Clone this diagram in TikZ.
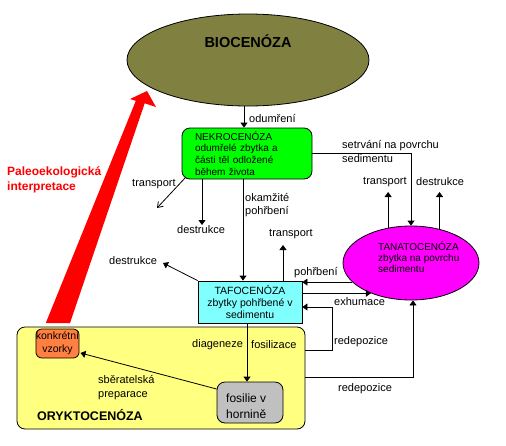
\documentclass[tikz,border=0pt]{standalone}
\usepackage{fontspec}
\setmainfont{Liberation Sans}
\usetikzlibrary{arrows.meta,shapes.geometric}
\definecolor{cBio}{HTML}{808040}
\definecolor{cNek}{HTML}{00FF00}
\definecolor{cTaf}{HTML}{80FFFF}
\definecolor{cTan}{HTML}{FF00FF}
\definecolor{cOry}{HTML}{FFFF80}
\definecolor{cKon}{HTML}{FF8040}
\definecolor{cFos}{HTML}{C0C0C0}
\definecolor{cRed}{HTML}{FF0000}
\begin{document}
\begin{tikzpicture}[x=1pt,y=-1pt,
  every node/.style={inner sep=0pt, font=\fontsize{11}{13}\selectfont},
  lbl/.style={anchor=west, align=left},
  arr/.style={-{Triangle[width=7pt,length=5pt]}, line width=0.8pt},
  barb/.style={-{Straight Barb[width=7pt,length=5pt]}, line width=0.8pt},
  shp/.style={draw, line width=0.8pt}]
\useasboundingbox (0,0) rectangle (506,445);

% shapes
\node[shp, fill=cOry, rounded corners=8pt, minimum width=288pt, minimum height=102pt] (orykto) at (161,378) {};
\node[shp, fill=cBio, ellipse, minimum width=242pt, minimum height=92pt] (bio) at (248,60) {};
\node[font=\bfseries\fontsize{14.5}{16}\selectfont] (bioT) at (248,41) {BIOCENÓZA};
\node[shp, fill=cNek, rounded corners=8pt, minimum width=130pt, minimum height=51pt, text width=104pt, align=left, font=\fontsize{10}{11.8}\selectfont] (nekro) at (247,153.5) {NEKROCENÓZA\\odumřelé zbytka a\\části těl odložené\\během života};
\node[shp, fill=cTaf, minimum width=104pt, minimum height=42pt, align=center, font=\fontsize{10.5}{12}\selectfont] (tafo) at (250,302) {TAFOCENÓZA\\zbytky pohřbené v\\sedimentu};
\node[shp, fill=cTan, ellipse, minimum width=136pt, minimum height=74pt] (tanato) at (411,263) {};
\node[lbl, font=\fontsize{10}{10.8}\selectfont] (tanatoT) at (378,257) {TANATOCENÓZA\\zbytka na povrchu\\sedimentu};
\node[shp, fill=cKon, rounded corners=6pt, minimum width=43pt, minimum height=29pt, align=center, font=\fontsize{10.5}{13}\selectfont] (konk) at (57.5,343.5) {konkrétní\\vzorky};
\node[shp, fill=cFos, rounded corners=8pt, minimum width=66pt, minimum height=41pt] (fos) at (250,402.5) {};
\node[lbl, font=\fontsize{12}{16}\selectfont] (fosT) at (226,406) {fosilie v\\hornině};
\node[lbl, font=\bfseries\fontsize{12.5}{15}\selectfont] (oryT) at (37,415) {ORYKTOCENÓZA};

% red arrow
\fill[cRed] (45.8,323) -- (135.8,100.8) -- (130,99) -- (147,91) -- (156,107) -- (144.7,103.3) -- (70,323) -- cycle;
\node[lbl, text=cRed, font=\bfseries\fontsize{12}{15}\selectfont] (paleo) at (7,179.5) {Paleoekologická\\interpretace};

% coordinates
\coordinate (tr1) at (157,208);
\coordinate (de1) at (202,225);
\coordinate (xOk) at (243,0);
\coordinate (tTop) at (0,192);
\coordinate (tTr2) at (283,245);
\coordinate (de2) at (163,263);
\coordinate (r1a) at (332,350);
\coordinate (r1b) at (332,307);
\coordinate (r2) at (413,377);

% connectors
\draw[arr] ([xshift=-4pt]bio.south) -- ([xshift=-4pt]bio.south |- nekro.north);
\draw[barb] ([shift={(4pt,2pt)}]nekro.south west) -- (tr1);
\draw[arr] (nekro.south -| de1) -- (de1);
\draw[arr] (nekro.south -| xOk) -- (tafo.north -| xOk);
\draw[arr] (nekro.east) -| (tanato.north);
\draw[arr] (tanato.123) -- (tanato.123 |- tTop);
\draw[arr] (tanato.50) -- (tanato.50 |- tTop);
\draw[arr] (tafo.north -| tTr2) -- (tTr2);
\draw[arr] (tafo.north west) -- (de2);
\draw[arr] (tanato.198) -- (tanato.198 -| tafo.east);
\draw[arr] (tafo.east |- tanato.217) -- (tanato.217);
\draw[arr] (orykto.east |- r1a) -- (r1a) -- (r1b) -- (tafo.east |- r1b);
\draw[arr] (orykto.east |- r2) -- (r2) -- (r2 |- tanato.south);
\draw[arr] ([xshift=-3pt]tafo.south) -- ([xshift=-3pt]tafo.south |- fos.north);
\draw[arr] ([yshift=13.5pt]fos.west) -- ([shift={(1pt,-9.5pt)}]konk.east);

% labels
\node[lbl] (lOdu) at (249,118) {odumření};
\node[lbl] (lTr1) at (132,184) {transport};
\node[lbl] (lDe1) at (177,230) {destrukce};
\node[lbl] (lOk) at (245,205) {okamžité\\pohřbení};
\node[lbl] (lTr2) at (269,234) {transport};
\node[lbl, font=\fontsize{11}{14}\selectfont] (lSet) at (342,151) {setrvání na povrchu\\sedimentu};
\node[lbl] (lTr3) at (363,182) {transport};
\node[lbl] (lDe3) at (416,182) {destrukce};
\node[lbl] (lDe2) at (109,261) {destrukce};
\node[lbl] (lPoh) at (294,273) {pohřbení};
\node[lbl] (lExh) at (334,302) {exhumace};
\node[lbl] (lRe1) at (334,342) {redepozice};
\node[lbl] (lRe2) at (338,389) {redepozice};
\node[lbl] (lDia) at (192,345) {diageneze};
\node[lbl] (lFos) at (251,345) {fosilizace};
\node[lbl, font=\fontsize{11}{13.6}\selectfont] (lSbe) at (98,387.5) {sběratelská\\preparace};
\end{tikzpicture}
\end{document}
